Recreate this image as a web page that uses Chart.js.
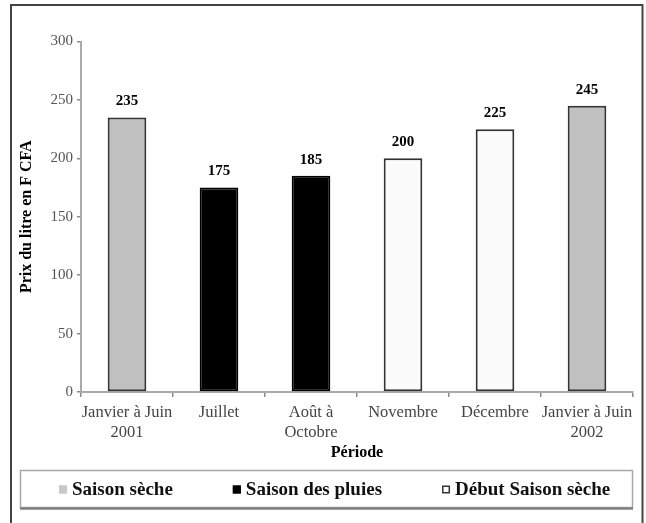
<!DOCTYPE html>
<html>
<head>
<meta charset="utf-8">
<script src="https://cdn.jsdelivr.net/npm/chart.js@4/dist/chart.umd.min.js"></script>
<style>
  html, body { margin: 0; padding: 0; background: #fff; }
  #wrap { width: 646px; height: 523px; position: relative; }
</style>
</head>
<body>
<div id="wrap"><canvas id="c" width="646" height="523"></canvas></div>
<script>
// Milk price per litre (F CFA) by period
const periods = [['Janvier à Juin', '2001'], 'Juillet', ['Août à', 'Octobre'], 'Novembre', 'Décembre', ['Janvier à Juin', '2002']];
const prices = [235, 175, 185, 200, 225, 245];
const periodSeason = [0, 1, 1, 2, 2, 0];

// Seasons
const seasonNames = ['Saison sèche', 'Saison des pluies', 'Début Saison sèche'];
const seasonFill = ['#c0c0c0', '#000000', '#fbfbfb'];
const seasonBorder = ['#333333', '#000000', '#333333'];
const legendMarkerFill = ['#c8c8c8', '#000000', '#ffffff'];
const legendMarkerBorder = ['#c8c8c8', '#000000', '#333333'];

// Axis
const yMin = 0, yMax = 300, yStep = 50;
const yTitle = 'Prix du litre en F CFA';
const xTitle = 'Période';

const SERIF = "'Liberation Serif', 'Times New Roman', serif";
Chart.defaults.font.family = SERIF;

const valueLabels = {
  id: 'valueLabels',
  afterDatasetsDraw(chart) {
    const ctx = chart.ctx;
    const meta = chart.getDatasetMeta(0);
    ctx.save();
    ctx.font = 'bold 15px ' + SERIF;
    ctx.fillStyle = '#000';
    ctx.textAlign = 'center';
    ctx.textBaseline = 'middle';
    meta.data.forEach((bar, i) => {
      ctx.fillText(String(prices[i]), bar.x, bar.y - 16);
    });
    ctx.restore();
  }
};

const frameAndLegend = {
  id: 'frameAndLegend',
  beforeDraw(chart) {
    const ctx = chart.ctx;
    ctx.save();
    ctx.fillStyle = '#fff';
    ctx.fillRect(0, 0, chart.width, chart.height);
    ctx.restore();
  },
  afterDraw(chart) {
    const ctx = chart.ctx;
    ctx.save();
    // outer frame
    ctx.strokeStyle = '#444';
    ctx.lineWidth = 2;
    ctx.strokeRect(11, 5, 631.5, 600);

    // legend box with a soft shadow on the bottom edge
    ctx.strokeStyle = '#a8a8a8';
    ctx.lineWidth = 1.5;
    ctx.strokeRect(20.5, 470.5, 612, 37);
    ctx.strokeStyle = '#808080';
    ctx.lineWidth = 2.5;
    ctx.beginPath();
    ctx.moveTo(20, 508.5);
    ctx.lineTo(633, 508.5);
    ctx.stroke();

    // legend entries
    ctx.font = 'bold 19px ' + SERIF;
    ctx.textBaseline = 'middle';
    ctx.textAlign = 'left';
    const cy = 489.5;
    const box = 8;
    let x = 59;
    seasonNames.forEach((name, i) => {
      ctx.fillStyle = legendMarkerFill[i];
      ctx.fillRect(x, cy - box / 2, box, box);
      ctx.strokeStyle = legendMarkerBorder[i];
      ctx.lineWidth = 1.5;
      ctx.strokeRect(x + 0.75, cy - box / 2 + 0.75, box - 1.5, box - 1.5);
      ctx.fillStyle = '#111';
      const tx = x + box + 5;
      ctx.fillText(name, tx, cy + 1);
      x = tx + ctx.measureText(name).width + 60;
    });
    ctx.restore();
  }
};

new Chart(document.getElementById('c'), {
  type: 'bar',
  data: {
    labels: periods,
    datasets: [{
      data: prices,
      backgroundColor: periodSeason.map(s => seasonFill[s]),
      borderColor: periodSeason.map(s => seasonBorder[s]),
      borderWidth: 2,
      borderSkipped: false,
      barPercentage: 0.42,
      categoryPercentage: 1
    }]
  },
  options: {
    responsive: false,
    animation: false,
    devicePixelRatio: 1,
    layout: { padding: { left: 13, top: 41.5, right: 13, bottom: 57.4 } },
    plugins: {
      legend: { display: false },
      tooltip: { enabled: false }
    },
    scales: {
      x: {
        grid: { display: true, drawOnChartArea: false, drawTicks: true, tickLength: 5, color: '#888', lineWidth: 1.5, offset: true },
        border: { display: true, color: '#aaaaaa', width: 2 },
        ticks: { color: '#444', font: { size: 16.5, lineHeight: 1.2 }, padding: 6, maxRotation: 0, autoSkip: false },
        title: { display: true, text: xTitle, color: '#000', font: { size: 16, weight: 'bold' }, padding: { top: 0, bottom: 3 } },
        afterFit(scale) { scale.height = 73.6; }
      },
      y: {
        min: yMin,
        max: yMax,
        grid: { display: true, drawOnChartArea: false, drawTicks: true, tickLength: 4, color: '#888', lineWidth: 1.5 },
        border: { display: true, color: '#aaaaaa', width: 2 },
        ticks: { stepSize: yStep, color: '#555', font: { size: 15 }, padding: 4 },
        title: { display: true, text: yTitle, color: '#000', font: { size: 16, weight: 'bold' }, padding: { top: 4, bottom: 0 } },
        afterFit(scale) { scale.width = 68; }
      }
    }
  },
  plugins: [valueLabels, frameAndLegend]
});
</script>
</body>
</html>
